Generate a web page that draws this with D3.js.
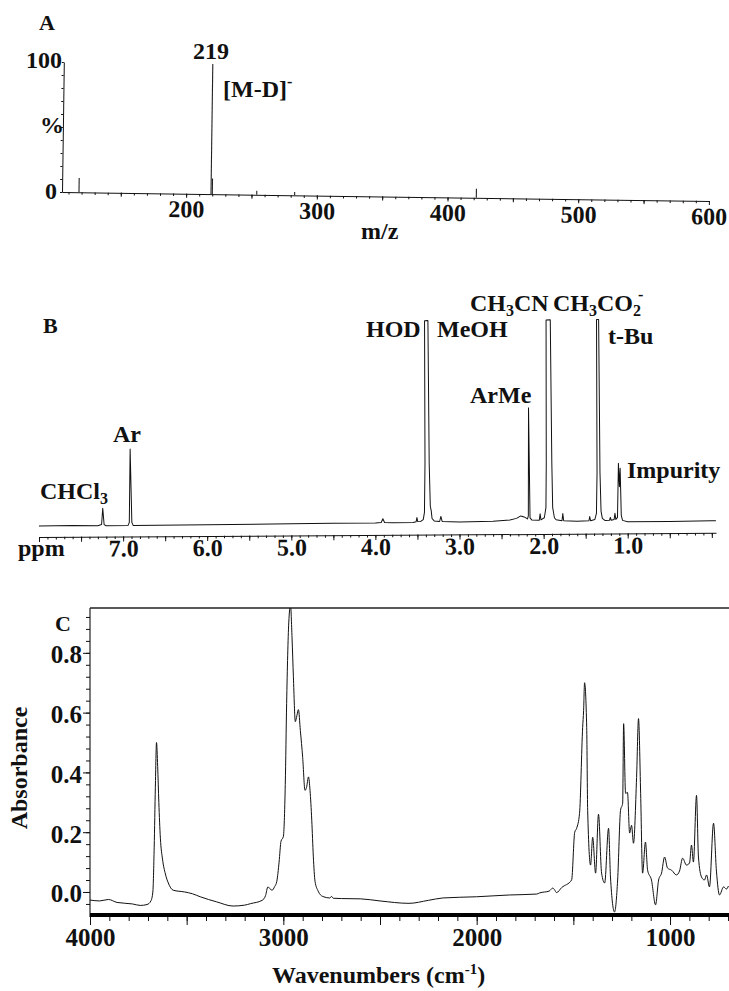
<!DOCTYPE html>
<html lang="en">
<head>
<meta charset="UTF-8">
<title>MS / 1H NMR / IR</title>
<script src="https://cdn.jsdelivr.net/npm/d3@7"></script>
<style>
  body { margin: 0; background: #fff; }
  svg { display: block; }
  text { font-family: "Liberation Serif", "Times New Roman", serif; font-weight: 700; fill: #111; }
  .lab { font-size: 24px; }
  .panel { font-size: 22px; }
  .tick text { font-size: 24px; }
  .irtick .tick text { font-size: 25px; }
  .trace { fill: none; stroke: #111; stroke-width: 1; stroke-linejoin: round; }
  .stick { stroke: #222; stroke-width: 1.1; }
</style>
</head>
<body>
<svg width="729" height="991"></svg>
<script>
// ---------- data ----------
// A: mass spectrum (m/z, relative intensity %)
const msMz  = [118, 219, 220, 254, 283, 422];
const msInt = [11, 100, 12, 3, 2.5, 7];
const msTicks = [200, 300, 400, 500, 600];

// B: 1H NMR trace (ppm, intensity; 100 = off-scale)
const nmrTrace = [
  [8.00,0.5],[7.60,0.6],[7.30,0.4],[7.255,1],[7.24,9],[7.225,1],[7.20,0.4],
  [6.94,0.5],[6.925,2],[6.91,38],[6.895,2],[6.88,0.5],
  [6.00,0.6],[5.00,0.8],[4.50,0.9],[4.00,0.9],[3.93,1.2],[3.91,3],[3.89,1.2],[3.80,1.0],
  [3.55,1.1],[3.515,1.4],[3.505,3.5],[3.495,1.5],[3.46,1.6],[3.43,2.5],[3.415,6],[3.405,30],
  [3.40,100],[3.36,100],[3.355,30],[3.345,9],[3.335,7],[3.325,3],[3.30,1.8],
  [3.235,1.5],[3.22,4],[3.205,1.5],[3.00,1.2],[2.60,1.4],[2.40,2],[2.32,2.8],[2.27,4],
  [2.23,3.5],[2.19,2.5],[2.18,4],[2.17,57],[2.16,3],[2.14,2],[2.05,1.8],[2.04,5],[2.03,2],
  [1.99,3],[1.97,8],[1.963,30],[1.955,100],[1.905,100],[1.897,30],[1.89,8],[1.87,3],[1.85,2],
  [1.78,1.5],[1.77,5],[1.76,1.5],[1.60,1.2],[1.46,1.4],[1.45,3.5],[1.44,1.4],[1.39,2],
  [1.37,5],[1.36,25],[1.355,100],[1.33,100],[1.325,25],[1.315,6],[1.30,2.5],[1.27,1.5],
  [1.215,1.6],[1.205,3],[1.195,1.6],[1.16,2],[1.15,5],[1.14,2],[1.12,3],[1.105,29.5],
  [1.095,18],[1.085,27],[1.075,4],[1.06,1.5],[1.00,0.8],[0.50,0.8],[0.00,1.0],[-0.05,1.0]
];
const nmrTicks = [7, 6, 5, 4, 3, 2, 1];

// C: IR spectrum (wavenumber cm-1, absorbance)
const irTrace = [
  [4000,-0.027],[3950,-0.03],[3905,-0.025],[3860,-0.035],[3780,-0.04],[3740,-0.045],
  [3705,-0.042],[3685,-0.03],[3675,0.0],[3668,0.15],[3662,0.35],[3656,0.50],[3650,0.42],
  [3644,0.30],[3636,0.18],[3625,0.11],[3610,0.06],[3595,0.03],[3570,0.006],[3510,0.0],
  [3470,-0.006],[3430,-0.016],[3345,-0.033],[3260,-0.047],[3200,-0.044],[3170,-0.039],
  [3110,-0.028],[3092,-0.012],[3080,0.017],[3068,0.01],[3058,0.006],[3045,0.018],
  [3034,0.035],[3022,0.10],[3012,0.17],[3000,0.185],[2990,0.36],[2983,0.63],[2972,0.90],
  [2963,0.96],[2955,0.85],[2948,0.72],[2938,0.57],[2930,0.59],[2922,0.61],[2912,0.54],
  [2900,0.45],[2888,0.34],[2880,0.35],[2870,0.385],[2862,0.34],[2853,0.24],[2845,0.12],
  [2836,0.035],[2820,0.003],[2796,-0.015],[2760,-0.02],[2750,-0.015],[2742,-0.021],
  [2700,-0.022],[2600,-0.023],[2500,-0.03],[2350,-0.038],[2250,-0.028],[2175,-0.02],
  [2000,-0.016],[1830,-0.01],[1690,-0.007],[1674,-0.003],[1625,0.003],[1607,0.013],
  [1598,0.008],[1587,-0.002],[1560,0.015],[1509,0.04],[1493,0.2],[1483,0.213],[1468,0.263],
  [1452,0.55],[1447,0.607],[1442,0.70],[1431,0.55],[1426,0.273],[1411,0.09],[1400,0.183],
  [1385,0.063],[1370,0.26],[1354,0.063],[1338,0.03],[1318,0.213],[1308,0.05],[1287,-0.067],
  [1271,0.04],[1256,0.273],[1245,0.297],[1240,0.563],[1230,0.33],[1220,0.333],[1209,0.197],
  [1199,0.223],[1189,0.163],[1173,0.383],[1163,0.58],[1152,0.33],[1142,0.063],[1127,0.167],
  [1116,0.073],[1096,0.04],[1075,-0.043],[1059,0.04],[1044,0.063],[1028,0.117],[1013,0.08],
  [992,0.073],[967,0.057],[951,0.07],[935,0.113],[915,0.09],[899,0.097],[889,0.157],
  [879,0.1],[863,0.323],[853,0.117],[837,0.05],[822,0.04],[811,0.057],[796,0.017],
  [775,0.23],[760,0.07],[744,-0.01],[723,0.017],[708,0.01],[698,0.02]
];
const irXTicks = [4000, 3000, 2000, 1000];
const irYTicks = [0, 0.2, 0.4, 0.6, 0.8];

const serif = '"Liberation Serif", "Times New Roman", serif';
const svg = d3.select("svg");

// strip d3's default axis font so the serif style applies
function clean(g) {
  g.attr("font-family", null).attr("font-size", null).attr("color", "#111");
  g.selectAll("text").attr("font-family", serif).attr("font-weight", 700);
}

// ---------- A: mass spectrum ----------
const xA = d3.scaleLinear().domain([105, 600]).range([62, 709]);
const yA = d3.scaleLinear().domain([0, 100]).range([192, 62]);
const gA = svg.append("g").attr("transform", "rotate(0.8,62,192)");

gA.append("g")
    .attr("transform", "translate(0,192)")
    .call(d3.axisBottom(xA).tickValues(d3.range(110, 600, 10)).tickSize(2.5).tickSizeOuter(0).tickFormat(""))
    .call(clean);
gA.append("g")
    .attr("transform", "translate(0,192)")
    .call(d3.axisBottom(xA).tickValues(d3.range(150, 601, 50)).tickSize(4).tickFormat(""))
    .call(clean)
    .call(g => g.select(".domain").remove());
gA.append("g")
    .attr("transform", "translate(0,192)")
    .call(d3.axisBottom(xA).tickValues(msTicks).tickSize(0).tickPadding(6.5).tickFormat(d3.format("d")))
    .call(clean)
    .call(g => g.select(".domain").remove());
gA.append("g")
    .attr("transform", "translate(62,0)")
    .call(d3.axisLeft(yA).tickValues(d3.range(0, 101, 10)).tickSize(2).tickSizeOuter(0).tickFormat(""))
    .call(clean);

gA.selectAll("line.stick")
    .data(msMz)
    .join("line")
    .attr("class", "stick")
    .attr("x1", d => xA(d)).attr("x2", d => xA(d))
    .attr("y1", yA(0))
    .attr("y2", (d, i) => yA(msInt[i]));

svg.append("text").attr("class", "panel").attr("x", 39).attr("y", 30).text("A");
svg.append("text").attr("class", "lab").attr("x", 62).attr("y", 68).attr("text-anchor", "end").text("100");
svg.append("text").attr("class", "lab").attr("x", 40).attr("y", 133).text("%");
svg.append("text").attr("class", "lab").attr("x", 57).attr("y", 199).attr("text-anchor", "end").text("0");
svg.append("text").attr("class", "lab").attr("x", 193).attr("y", 59).text("219");
const md = svg.append("text").attr("class", "lab").attr("x", 223).attr("y", 97);
md.append("tspan").text("[M-D]");
md.append("tspan").attr("font-size", 16).attr("dy", -10).text("-");
svg.append("text").attr("class", "lab").attr("x", 361).attr("y", 239).text("m/z");

// ---------- B: 1H NMR ----------
const xB = d3.scaleLinear().domain([8.0, -0.05]).range([39, 716]);
const yB = d3.scaleLinear().domain([0, 100]).range([527, 323]);
const gB = svg.append("g").attr("transform", "rotate(-0.35,39,537)");

gB.append("g")
    .attr("transform", "translate(0,537)")
    .call(d3.axisBottom(xB).tickValues(d3.range(0, 81).map(i => i / 10)).tickSize(2.5).tickSizeOuter(0).tickFormat(""))
    .call(clean);
gB.append("g")
    .attr("transform", "translate(0,537)")
    .call(d3.axisBottom(xB).tickValues(d3.range(0, 17).map(i => i / 2)).tickSize(5).tickFormat(""))
    .call(clean)
    .call(g => g.select(".domain").remove());
gB.append("g")
    .attr("transform", "translate(0,537)")
    .call(d3.axisBottom(xB).tickValues(nmrTicks).tickSize(0).tickPadding(3).tickFormat(d3.format(".1f")))
    .call(clean)
    .call(g => g.select(".domain").remove());

gB.append("path")
    .datum(nmrTrace)
    .attr("class", "trace")
    .attr("d", d3.line().x(d => xB(d[0])).y(d => yB(d[1])));

svg.append("text").attr("class", "panel").attr("x", 43).attr("y", 333).text("B");
svg.append("text").attr("class", "lab").attr("x", 18).attr("y", 556).text("ppm");

const chcl3 = svg.append("text").attr("class", "lab").attr("x", 40).attr("y", 499);
chcl3.append("tspan").text("CHCl");
chcl3.append("tspan").attr("font-size", 16).attr("dy", 5).text("3");
svg.append("text").attr("class", "lab").attr("x", 113).attr("y", 442).text("Ar");
svg.append("text").attr("class", "lab").attr("x", 366).attr("y", 337).text("HOD");
svg.append("text").attr("class", "lab").attr("x", 437).attr("y", 337).text("MeOH");
const mecn = svg.append("text").attr("class", "lab").attr("x", 470).attr("y", 311);
mecn.append("tspan").text("CH");
mecn.append("tspan").attr("font-size", 16).attr("dy", 5).text("3");
mecn.append("tspan").attr("dy", -5).text("CN");
const ac = svg.append("text").attr("class", "lab").attr("x", 553).attr("y", 311);
ac.append("tspan").text("CH");
ac.append("tspan").attr("font-size", 16).attr("dy", 5).text("3");
ac.append("tspan").attr("dy", -5).text("CO");
ac.append("tspan").attr("font-size", 16).attr("dy", 5).text("2");
ac.append("tspan").attr("font-size", 16).attr("dx", -3).attr("dy", -16).text("-");
svg.append("text").attr("class", "lab").attr("x", 608).attr("y", 344).text("t-Bu");
svg.append("text").attr("class", "lab").attr("x", 470).attr("y", 403).text("ArMe");
svg.append("text").attr("class", "lab").attr("x", 627).attr("y", 478).text("Impurity");

// ---------- C: IR ----------
const xC = d3.scaleLinear().domain([4000, 695]).range([90, 729]);
const yC = d3.scaleLinear().domain([-0.077, 0.95]).range([915, 608]);

svg.append("clipPath").attr("id", "irclip")
  .append("rect").attr("x", 90).attr("y", 608).attr("width", 700).attr("height", 307);

svg.append("line").attr("x1", 90).attr("x2", 729).attr("y1", 608).attr("y2", 608)
    .attr("stroke", "#222").attr("stroke-width", 1.5);
svg.append("line").attr("x1", 90).attr("x2", 90).attr("y1", 608).attr("y2", 917)
    .attr("stroke", "#222").attr("stroke-width", 1.2);

svg.append("path")
    .datum(irTrace)
    .attr("class", "trace")
    .attr("clip-path", "url(#irclip)")
    .attr("d", d3.line().x(d => xC(d[0])).y(d => yC(d[1])).curve(d3.curveMonotoneX));

svg.append("line").attr("x1", 90).attr("x2", 729).attr("y1", 915).attr("y2", 915)
    .attr("stroke", "#000").attr("stroke-width", 4);

svg.append("g")
    .attr("transform", "translate(0,917)")
    .call(d3.axisBottom(xC).tickValues(d3.range(700, 4001, 100)).tickSize(4).tickFormat(""))
    .call(clean)
    .call(g => g.select(".domain").remove());
svg.append("g")
    .attr("transform", "translate(0,917)")
    .call(d3.axisBottom(xC).tickValues(d3.range(1000, 4001, 500)).tickSize(8).tickFormat(""))
    .call(clean)
    .call(g => g.select(".domain").remove());
svg.append("g")
    .attr("class", "irtick")
    .attr("transform", "translate(0,917)")
    .call(d3.axisBottom(xC).tickValues(irXTicks).tickSize(0).tickPadding(11).tickFormat(d3.format("d")))
    .call(clean)
    .call(g => g.select(".domain").remove());

svg.append("g")
    .attr("transform", "translate(90,0)")
    .call(d3.axisLeft(yC).tickValues(d3.range(-1, 24).map(i => i * 0.04)).tickSize(4).tickFormat(""))
    .call(clean)
    .call(g => g.select(".domain").remove());
svg.append("g")
    .attr("class", "irtick")
    .attr("transform", "translate(90,0)")
    .call(d3.axisLeft(yC).tickValues(irYTicks).tickSize(7).tickPadding(1).tickFormat(d3.format(".1f")))
    .call(clean)
    .call(g => g.select(".domain").remove())
    .call(g => g.selectAll(".tick text").attr("dy", "0.4em"));

svg.append("text").attr("class", "panel").attr("x", 55).attr("y", 631).text("C");
svg.append("text").attr("class", "lab")
    .attr("transform", "translate(27,768) rotate(-90)")
    .attr("text-anchor", "middle")
    .text("Absorbance");
const wn = svg.append("text").attr("class", "lab").attr("x", 272).attr("y", 983);
wn.append("tspan").text("Wavenumbers (cm");
wn.append("tspan").attr("font-size", 15).attr("dy", -9).text("-1");
wn.append("tspan").attr("dy", 9).text(")");
</script>
</body>
</html>
